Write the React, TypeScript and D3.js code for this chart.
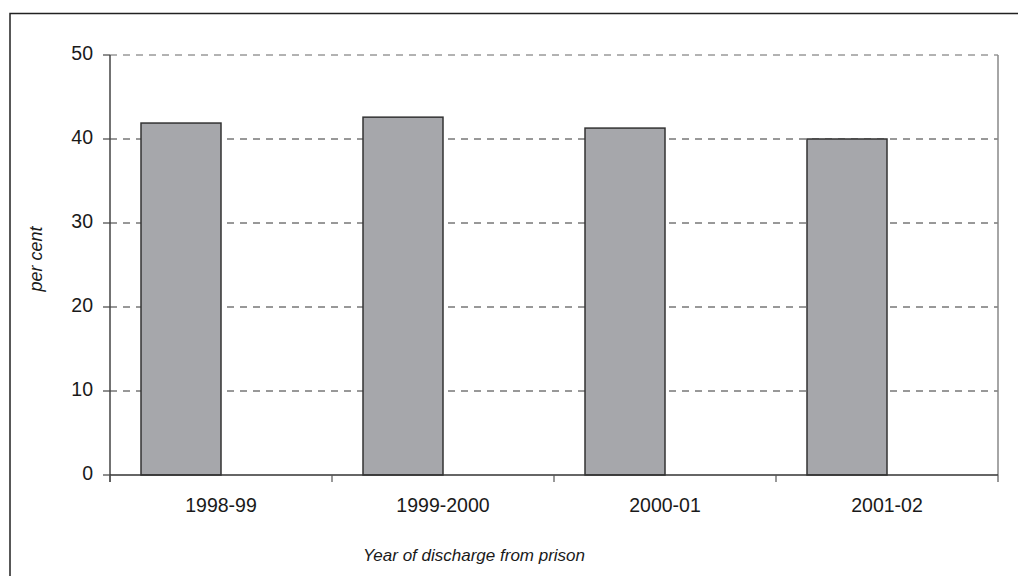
import React from "react";
import * as d3 from "d3";

const categories = ["1998-99", "1999-2000", "2000-01", "2001-02"];
const values = [41.9, 42.6, 41.3, 40.0];
const yTicks = [0, 10, 20, 30, 40, 50];
const seriesSlots = ["value", "empty"];

const W = 1018;
const H = 576;
const M = { left: 110, right: 998, top: 55, bottom: 475 };

export default function App() {
  const x0 = d3.scaleBand<string>().domain(categories).range([M.left, M.right]).paddingInner(0).paddingOuter(0);
  const x1 = d3.scaleBand<string>().domain(seriesSlots).range([0, x0.bandwidth()]).paddingInner(0).paddingOuter(0.3875);
  const y = d3.scaleLinear().domain([0, 50]).range([M.bottom, M.top]);
  const font = "'Liberation Sans', Arial, sans-serif";
  const boundaries = [...categories.map((c) => x0(c) as number), M.right];

  return (
    <svg width={W} height={H} style={{ position: "absolute", left: 0, top: 0, display: "block", background: "#fff" }}>
      <rect x={10} y={13.5} width={1200} height={800} fill="#fff" stroke="#222" strokeWidth={1.5} />
      {yTicks.filter((t) => t > 0).map((t) => (
        <line key={t} x1={M.left} x2={M.right} y1={y(t)} y2={y(t)} stroke={t === 50 ? "#666" : "#333"} strokeWidth={1} strokeDasharray="7,6" />
      ))}
      <line x1={M.right} x2={M.right} y1={M.top} y2={M.bottom} stroke="#888" strokeWidth={1.5} />
      {categories.map((c, i) => (
        <rect
          key={c}
          x={(x0(c) as number) + (x1("value") as number)}
          y={y(values[i])}
          width={x1.bandwidth()}
          height={y(0) - y(values[i])}
          fill="#a6a7ab"
          stroke="#333"
          strokeWidth={1.5}
        />
      ))}
      <line x1={M.left} x2={M.left} y1={M.top} y2={M.bottom + 7} stroke="#444" strokeWidth={1.5} />
      <line x1={M.left} x2={M.right} y1={M.bottom} y2={M.bottom} stroke="#333" strokeWidth={1.5} />
      {yTicks.map((t) => (
        <g key={t}>
          <line x1={M.left - 7} x2={M.left} y1={y(t)} y2={y(t)} stroke="#444" strokeWidth={1.2} />
          <text x={93} y={y(t) + 5} textAnchor="end" fontFamily={font} fontSize={19.5} fill="#1a1a1a">
            {t}
          </text>
        </g>
      ))}
      {boundaries.map((b, i) => (
        <line key={i} x1={b} x2={b} y1={M.bottom} y2={M.bottom + 7} stroke="#555" strokeWidth={1.2} />
      ))}
      {categories.map((c) => (
        <text key={c} x={(x0(c) as number) + x0.bandwidth() / 2} y={512} textAnchor="middle" fontFamily={font} fontSize={19.5} fill="#1a1a1a">
          {c}
        </text>
      ))}
      <text x={474} y={561} textAnchor="middle" fontFamily={font} fontSize={17} fontStyle="italic" fill="#1a1a1a">
        Year of discharge from prison
      </text>
      <text transform={`translate(42,${(M.top + M.bottom) / 2 - 6}) rotate(-90)`} textAnchor="middle" fontFamily={font} fontSize={18} fontStyle="italic" fill="#1a1a1a">
        per cent
      </text>
    </svg>
  );
}
